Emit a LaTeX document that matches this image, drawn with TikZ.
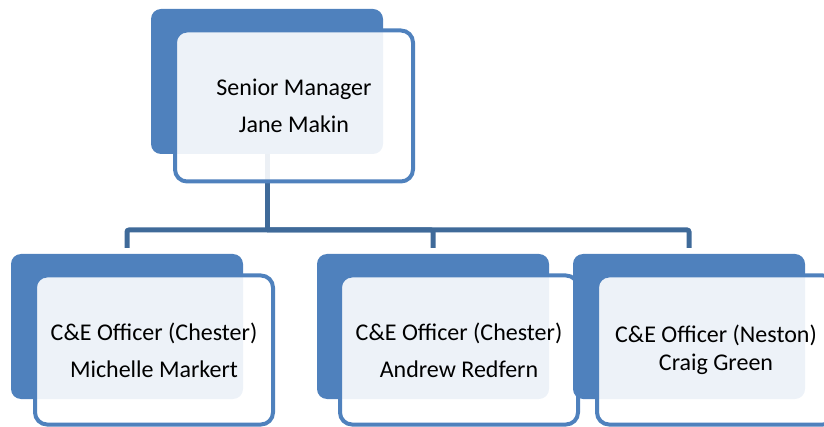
\documentclass[tikz,border=0pt]{standalone}
\usepackage{fontspec}
\setmainfont{Carlito}
\usetikzlibrary{backgrounds}
\definecolor{boxblue}{HTML}{4F81BD}
\definecolor{connblue}{HTML}{3F6A99}
\tikzset{
  backbox/.style={rectangle, rounded corners=10pt, fill=boxblue, draw=none,
    minimum width=232pt, minimum height=145pt, inner sep=0pt},
  frontbox/.style={rectangle, rounded corners=12pt, draw=boxblue, line width=4pt,
    fill=white, fill opacity=0.9, text opacity=1, text=black,
    minimum width=238pt, minimum height=149pt, inner sep=0pt, align=center,
    font=\fontsize{24}{28.5}\selectfont},
  conn/.style={draw=connblue, line width=5pt, rounded corners=2pt}
}
\begin{document}
\begin{tikzpicture}[x=1pt,y=-1pt]
\useasboundingbox (0,0) rectangle (824,427);
\clip (0,0) rectangle (824,427);
% top
\node[backbox] (tb) at (267,81.5) {};
\node[frontbox, minimum height=151pt] (tf) at (294,106) {Senior Manager\\[8.5pt]Jane Makin};
% children
\node[backbox] (b1) at (127,326.5) {};
\node[frontbox] (f1) at (154,350) {C\&E Officer (Chester)\\[8.5pt]Michelle Markert};
\node[backbox] (b2) at (433,326.5) {};
\node[frontbox] (f2) at (459,350) {C\&E Officer (Chester)\\[8.5pt]Andrew Redfern};
\node[backbox] (b3) at (689,326.5) {};
\node[frontbox] (f3) at (716,350) {C\&E Officer (Neston)\\Craig Green};
\coordinate (bus) at (267,230);
\begin{scope}[on background layer]
  \draw[conn] (tb.south) -- (bus);
  \draw[conn, shorten >=6pt] (bus) -| (b1.north);
  \draw[conn, shorten >=6pt] (bus) -| (b2.north);
  \draw[conn, shorten >=6pt] (bus) -| (b3.north);
\end{scope}
\end{tikzpicture}
\end{document}
